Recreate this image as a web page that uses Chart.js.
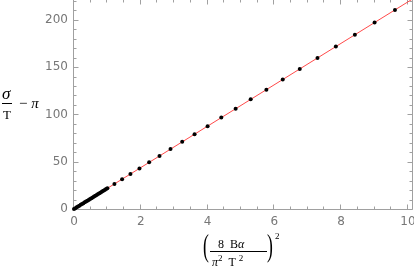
<!DOCTYPE html>
<html>
<head>
<meta charset="utf-8">
<script src="https://cdn.jsdelivr.net/npm/chart.js@4.4.0/dist/chart.umd.min.js"></script>
<style>
    body { margin: 0; background: #fff; }
    #wrap { position: relative; width: 414px; height: 276px; overflow: hidden; }
    /* canvas is a bit larger and shifted up so the frame reaches the top edge */
    #chart { position: absolute; left: 0; top: -5px; }
    .t { position: absolute; font-family: "Liberation Serif", "DejaVu Serif", serif; color: #000; white-space: nowrap; line-height: 1; }
    .bar { position: absolute; border-top: 1px solid #000; height: 0; }
</style>
</head>
<body>
<div id="wrap">
    <canvas id="chart" width="417" height="281"></canvas>

    <!-- y axis title: sigma/T - pi -->
    <span class="t" style="left:2px;top:85px;font-size:17px;font-style:italic">σ</span>
    <div class="bar" style="left:2px;top:103px;width:10px"></div>
    <span class="t" style="left:3px;top:108px;font-size:13px">T</span>
    <span class="t" style="left:19px;top:96px;font-size:15px">−&nbsp;<i>π</i></span>

    <!-- x axis title: (8 B alpha / pi^2 T^2)^2 -->
    <span class="t" style="left:203px;top:229px;font-size:32px;transform:scaleX(0.55);transform-origin:left top">(</span>
    <span class="t" style="left:218px;top:238px;font-size:12px">8&nbsp;&nbsp;B<i>α</i></span>
    <div class="bar" style="left:210px;top:251px;width:57px"></div>
    <span class="t" style="left:212px;top:254px;font-size:12px"><i>π</i><sup style="font-size:9px;vertical-align:5px">2</sup>&nbsp;&nbsp;T&nbsp;<sup style="font-size:9px;vertical-align:5px">2</sup></span>
    <span class="t" style="left:267px;top:229px;font-size:32px;transform:scaleX(0.55);transform-origin:left top">)</span>
    <span class="t" style="left:275px;top:232px;font-size:9px">2</span>
</div>

<script>
// dense cluster of points between 0 and 1
const denseX = [0, 0.04, 0.08, 0.12, 0.16, 0.20, 0.24, 0.28, 0.32, 0.36, 0.40, 0.44, 0.48,
    0.52, 0.56, 0.60, 0.64, 0.68, 0.72, 0.76, 0.80, 0.84, 0.88, 0.92, 0.96, 1.00];
const denseY = [0, 0.88, 1.75, 2.63, 3.50, 4.38, 5.26, 6.13, 7.01, 7.88, 8.76, 9.64, 10.51,
    11.39, 12.26, 13.14, 14.02, 14.89, 15.77, 16.64, 17.52, 18.40, 19.27, 20.15, 21.02, 21.90];

// sparse points beyond 1
const sparseX = [1.21, 1.44, 1.69, 1.96, 2.25, 2.56, 2.89, 3.24, 3.61, 4.00, 4.41,
    4.84, 5.29, 5.76, 6.25, 6.76, 7.29, 7.84, 8.41, 9.00, 9.61];
const sparseY = [26.5, 31.5, 37.0, 42.9, 49.3, 56.1, 63.3, 71.0, 79.1, 87.6, 96.6,
    106.0, 115.9, 126.1, 136.9, 148.0, 159.7, 171.7, 184.2, 197.1, 210.5];

// red fit line
const fitX = [0, 10.2];
const fitY = [0, 223.4];

const xTicks = [0, 2, 4, 6, 8, 10];
const yTicks = [0, 50, 100, 150, 200];
const xMinorStep = 0.5;
const yMinorStep = 10;

const pointData = denseX.map((x, i) => ({ x: x, y: denseY[i] }))
    .concat(sparseX.map((x, i) => ({ x: x, y: sparseY[i] })));
const lineData = fitX.map((x, i) => ({ x: x, y: fitY[i] }));

const frameColor = '#a0a0a0';
const labelFont = { family: 'DejaVu Sans', size: 12 };

function noPad(s) {
    s.paddingLeft = 0;
    s.paddingRight = 0;
    s.paddingTop = 0;
    s.paddingBottom = 0;
}

// Mathematica-like frame with inward ticks on all four sides
const framePlugin = {
    id: 'frame',
    beforeDatasetsDraw(chart) {
        const { ctx, chartArea: a, scales: { x, y } } = chart;
        const L = Math.round(a.left) - 0.5, R = Math.round(a.right) - 0.5;
        const T = Math.round(a.top) + 0.5, B = Math.round(a.bottom) + 0.5;
        ctx.save();
        ctx.strokeStyle = frameColor;
        ctx.lineWidth = 1;
        ctx.beginPath();
        ctx.rect(L, T, R - L, B - T);

        for (let v = 0; v <= x.max + 1e-9; v += xMinorStep) {
            const px = Math.round(x.getPixelForValue(v)) - 0.5;
            const len = xTicks.includes(Math.round(v * 100) / 100) ? 5 : 3;
            ctx.moveTo(px, B); ctx.lineTo(px, B - len);
            ctx.moveTo(px, T); ctx.lineTo(px, T + len);
        }
        for (let v = 0; v <= y.max + 1e-9; v += yMinorStep) {
            const py = Math.round(y.getPixelForValue(v)) + 0.5;
            const len = yTicks.includes(v) ? 5 : 3;
            ctx.moveTo(L, py); ctx.lineTo(L + len, py);
            ctx.moveTo(R, py); ctx.lineTo(R - len, py);
        }
        ctx.stroke();
        ctx.restore();
    }
};

new Chart(document.getElementById('chart').getContext('2d'), {
    type: 'scatter',
    data: {
        datasets: [
            {
                data: pointData,
                backgroundColor: '#000',
                borderColor: '#000',
                pointRadius: 2,
                pointBorderWidth: 0,
                showLine: false,
                clip: 4,
                order: 0
            },
            {
                data: lineData,
                type: 'line',
                borderColor: '#ff4a4a',
                borderWidth: 1,
                pointRadius: 0,
                fill: false,
                clip: 0,
                order: 1
            }
        ]
    },
    options: {
        responsive: false,
        animation: false,
        layout: { padding: { left: 0, right: 1, top: 0, bottom: 0 } },
        plugins: { legend: { display: false }, tooltip: { enabled: false } },
        scales: {
            x: {
                type: 'linear',
                min: 0,
                max: 10.15,
                afterBuildTicks: s => { s.ticks = xTicks.map(v => ({ value: v })); },
                afterFit: s => { s.height = 67; noPad(s); },
                grid: { display: false, drawTicks: false },
                border: { display: false },
                ticks: { color: '#777', font: labelFont, padding: 6, maxRotation: 0 }
            },
            y: {
                type: 'linear',
                min: 0,
                max: 222,
                afterBuildTicks: s => { s.ticks = yTicks.map(v => ({ value: v })); },
                afterFit: s => { s.width = 74; noPad(s); },
                grid: { display: false, drawTicks: false },
                border: { display: false },
                ticks: { color: '#777', font: labelFont, padding: 6 }
            }
        }
    },
    plugins: [framePlugin]
});
</script>
</body>
</html>
